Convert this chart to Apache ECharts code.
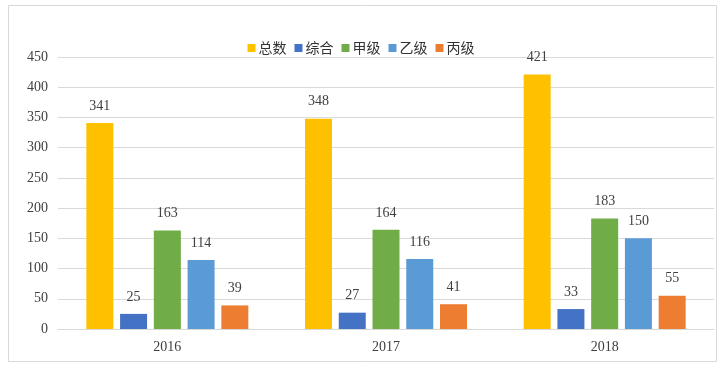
<!DOCTYPE html>
<html><head><meta charset="utf-8">
<script src="https://cdn.jsdelivr.net/npm/echarts@6/dist/echarts.min.js"></script>
<style>html,body{margin:0;padding:0;background:#fff}#c{width:722px;height:369px}</style>
</head><body><div id="c"></div>
<script>
const categories = ['2016', '2017', '2018'];
const seriesNames = ['总数', '综合', '甲级', '乙级', '丙级'];
const total = [341, 348, 421];
const zonghe = [25, 27, 33];
const jiaji = [163, 164, 183];
const yiji = [114, 116, 150];
const bingji = [39, 41, 55];
const yTicks = { min: 0, max: 450, interval: 50 };
const colors = ['#FFC000', '#4472C4', '#70AD47', '#5B9BD5', '#ED7D31'];
const values = [total, zonghe, jiaji, yiji, bingji];
const serif = '"Liberation Serif","DejaVu Serif",serif';
const chart = echarts.init(document.getElementById('c'), null, {renderer: 'canvas'});
chart.setOption({
  animation: false,
  graphic: [{type: 'rect', shape: {x: 8.5, y: 5.5, width: 708, height: 356}, style: {fill: 'none', stroke: '#d9d9d9', lineWidth: 1}, silent: true}],
  legend: {
    top: 36, left: 'center', itemWidth: 8, itemHeight: 8, itemGap: 8,
    icon: 'rect',
    textStyle: {fontFamily: '"Noto Sans CJK SC",sans-serif', fontSize: 14, color: '#333', padding: [0, 0, 0, -2]},
    data: seriesNames
  },
  grid: {left: 58, right: 8, top: 57, bottom: 40, containLabel: false},
  xAxis: {
    type: 'category', data: categories,
    axisLine: {lineStyle: {color: '#d9d9d9'}},
    axisTick: {show: false},
    axisLabel: {fontFamily: serif, fontSize: 14, color: '#404040', margin: 11}
  },
  yAxis: {
    type: 'value', min: yTicks.min, max: yTicks.max, interval: yTicks.interval,
    axisLine: {show: false}, axisTick: {show: false},
    splitLine: {lineStyle: {color: '#d9d9d9'}},
    axisLabel: {fontFamily: serif, fontSize: 14, color: '#404040', margin: 10}
  },
  series: seriesNames.map((n, i) => ({
    name: n, type: 'bar', data: values[i], barWidth: 27, barGap: '25%',
    itemStyle: {color: colors[i]},
    label: {show: true, position: 'top', distance: 10, fontFamily: serif, fontSize: 14, color: '#404040'}
  }))
});
</script></body></html>
